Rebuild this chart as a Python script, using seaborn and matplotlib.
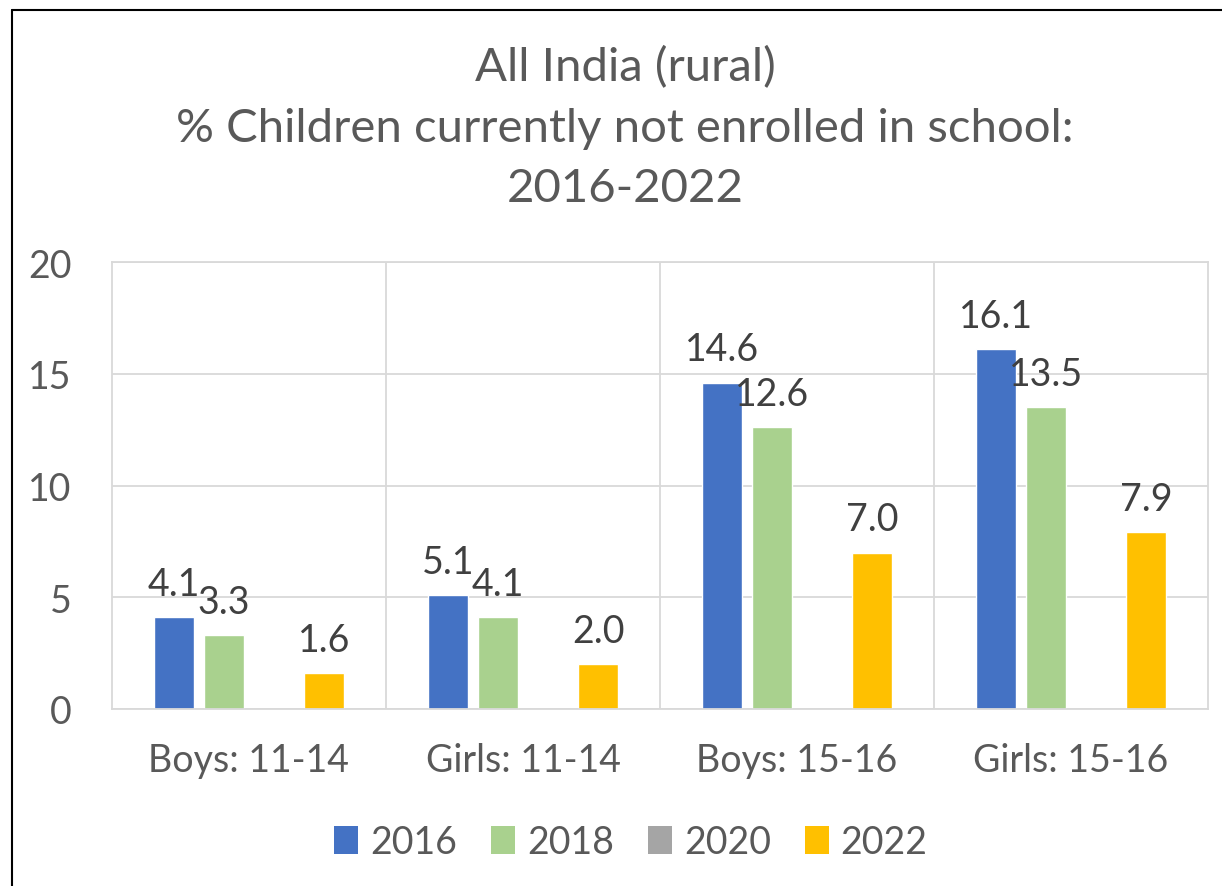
import numpy as np
import pandas as pd
import seaborn as sns
import matplotlib.pyplot as plt
from matplotlib.patches import Patch
from matplotlib.lines import Line2D

# data
groups = ['Boys: 11-14', 'Girls: 11-14', 'Boys: 15-16', 'Girls: 15-16']
years = ['2016', '2018', '2020', '2022']
v2016 = [4.1, 5.1, 14.6, 16.1]
v2018 = [3.3, 4.1, 12.6, 13.5]
v2020 = [np.nan, np.nan, np.nan, np.nan]   # no survey values shown for 2020
v2022 = [1.6, 2.0, 7.0, 7.9]
colors = ['#4472C4', '#A9D18E', '#A5A5A5', '#FFC000']

df = pd.DataFrame({
    'group': groups * 4,
    'year': np.repeat(years, len(groups)),
    'value': v2016 + v2018 + v2020 + v2022,
})

sns.set_style('white')
plt.rcParams['font.family'] = ['Lato', 'DejaVu Sans']
txt = '#595959'
grid = '#D9D9D9'
fs = 27

W, H = 1222, 887
fig = plt.figure(figsize=(W / 100, H / 100), dpi=100)
ax = fig.add_axes([112 / W, 1 - 710 / H, (1208 - 112) / W, (710 - 263) / H])

sns.barplot(data=df, x='group', y='value', hue='year', hue_order=years,
            palette=colors, saturation=1, width=0.73, gap=0.2,
            errorbar=None, legend=False, ax=ax)

# value labels
for p in ax.patches:
    h = p.get_height()
    if np.isfinite(h) and h > 0:
        ax.annotate(f'{h:.1f}', (p.get_x() + p.get_width() / 2, h),
                    xytext=(0, 16), textcoords='offset points',
                    ha='center', va='baseline', fontsize=fs, color='#404040')

ax.set_xlim(-0.5, 3.5)
ax.set_ylim(0, 20)
ax.set_yticks([0, 5, 10, 15, 20])
ax.set_xlabel('')
ax.set_ylabel('')
ax.set_axisbelow(True)
ax.yaxis.grid(True, color=grid, lw=1.3)
ax.set_xticks([0.5, 1.5, 2.5], minor=True)
ax.xaxis.grid(True, which='minor', color=grid, lw=1.3)
ax.tick_params(axis='both', which='both', length=0, labelsize=fs, colors=txt)
ax.tick_params(axis='y', pad=29)
ax.tick_params(axis='x', pad=24)
for s in ax.spines.values():
    s.set_color(grid)
    s.set_linewidth(1.3)

fig.text(625 / W, 1 - 128 / H,
         'All India (rural)\n% Children currently not enrolled in school:\n2016-2022',
         ha='center', va='center', fontsize=34, color=txt, linespacing=1.55)

handles = [Patch(facecolor=c, edgecolor='none') for c in colors]
fig.legend(handles, years, loc='center', bbox_to_anchor=(631 / W, 1 - 843 / H),
           ncol=4, frameon=False, fontsize=fs, labelcolor=txt,
           handlelength=0.64, handleheight=0.75, handletextpad=0.32,
           columnspacing=0.9)

# outer chart frame (only left and top edges are visible)
fig.add_artist(Line2D([12 / W, 12 / W], [0, 1 - 11 / H], transform=fig.transFigure,
                      color='black', lw=1.5))
fig.add_artist(Line2D([12 / W, 1], [1 - 11 / H, 1 - 11 / H], transform=fig.transFigure,
                      color='black', lw=1.5))

fig.savefig('out.png', dpi=100)
